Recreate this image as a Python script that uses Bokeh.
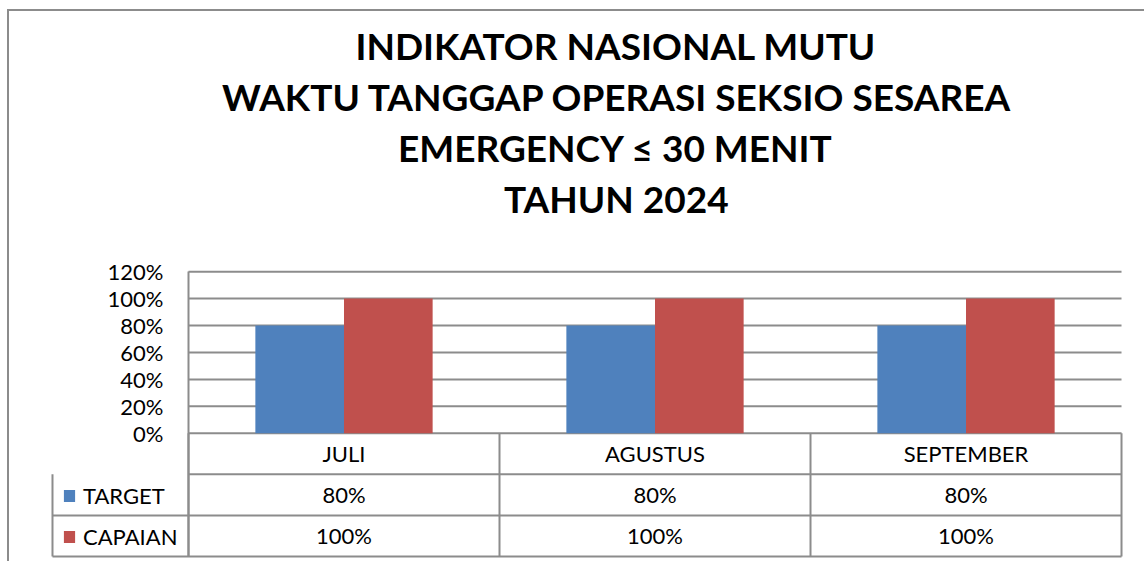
import numpy as np
from bokeh.plotting import figure
from bokeh.models import (Range1d, FixedTicker, NumeralTickFormatter, Legend, LegendItem, Title)
from bokeh.embed import file_html
from bokeh.resources import INLINE
from bokeh.core.properties import value

# ---- data ----
title_lines = ["INDIKATOR NASIONAL MUTU",
               "WAKTU TANGGAP OPERASI SEKSIO SESAREA",
               "EMERGENCY \u2264 30 MENIT",
               "TAHUN 2024"]
months = ["JULI", "AGUSTUS", "SEPTEMBER"]
series_names = ["TARGET", "CAPAIAN"]
target = [0.80, 0.80, 0.80]
capaian = [1.00, 1.00, 1.00]
y_ticks = [0.0, 0.2, 0.4, 0.6, 0.8, 1.0, 1.2]

# ---- style ----
BLUE = "#4F81BD"
RED = "#C0504D"
GRID = "#8c8c8c"
FONT = "Lato"
FS = "22px"

n = len(months)
pos = np.arange(n) + 0.5
bar_w = 0.285
off = bar_w / 2
row_h = 0.305
key_col = 0.4373   # width of the series-name column of the data table (category units)

W, H = 1144, 561
LEFT, RIGHT, TOP, BOTTOM = 50, 20, 255, 3
p = figure(width=W, height=H, output_backend="svg", toolbar_location=None,
           x_range=Range1d(-key_col - 0.0064, n + 0.0096),
           y_range=Range1d(-0.93, 1.32),
           min_border_left=LEFT, min_border_right=RIGHT, min_border_top=TOP,
           min_border_bottom=BOTTOM)
# chart-area border (top and left edges visible)
p.styles = {"box-shadow": "inset 7px 9px 0 0 white, inset 9px 11px 0 0 #8c8c8c"}
p.border_fill_alpha = 0
p.outline_line_color = None
p.background_fill_color = "white"

# ---- title: four centred lines stacked above the plot area ----
title_center = 614                   # horizontal centre of the title block
title_widths = [518, 785, 433, 221]  # rendered widths of the lines (Lato Bold 37px)

def style_title(t, i):
    t.align = "left"
    t.offset = title_center - LEFT - title_widths[i] / 2
    t.text_font = FONT
    t.text_font_size = "37px"
    t.text_font_style = "bold"
    t.text_color = "black"
    t.standoff = 4

p.title.text = title_lines[0]
style_title(p.title, 0)
# nearest the plot first: a blank spacer, then lines 4, 3, 2
p.add_layout(Title(text=" ", text_font_size="10px", standoff=20), "above")
for i in (3, 2, 1):
    t = Title(text=title_lines[i])
    style_title(t, i)
    p.add_layout(t, "above")

# ---- axes ----
p.xaxis.visible = False
p.xgrid.visible = False
p.ygrid.visible = False
ya = p.yaxis[0]
ya.fixed_location = 0
ya.bounds = (-3 * row_h, y_ticks[-1])
ya.ticker = FixedTicker(ticks=y_ticks)
ya.formatter = NumeralTickFormatter(format="0%")
ya.major_tick_in = 0
ya.major_tick_out = 0
ya.minor_tick_line_color = None
ya.axis_line_color = GRID
ya.axis_line_width = 2
ya.major_label_standoff = 25
ya.major_label_text_font = FONT
ya.major_label_text_font_size = FS
ya.major_label_text_color = "black"

# horizontal gridlines over the category area only
p.segment(x0=[0] * len(y_ticks), x1=[n] * len(y_ticks), y0=y_ticks, y1=y_ticks,
          line_color=GRID, line_width=2, level="underlay")

# ---- bars ----
r_t = p.vbar(x=pos - off, top=target, width=bar_w, fill_color=BLUE, line_color=None)
r_c = p.vbar(x=pos + off, top=capaian, width=bar_w, fill_color=RED, line_color=None)

# ---- data table ----
row_lines = [-row_h * (i + 1) for i in range(3)]
# row separators (the key column starts at the second row)
p.segment(x0=[0, -key_col, -key_col], x1=[n] * 3, y0=row_lines, y1=row_lines,
          line_color=GRID, line_width=2)
bounds = [-key_col] + list(range(n + 1))
p.segment(x0=bounds, x1=bounds, y0=[row_lines[0]] + [0] * (n + 1),
          y1=[row_lines[-1]] * len(bounds), line_color=GRID, line_width=2)

txt = dict(text_align="center", text_baseline="middle", text_font=value(FONT),
           text_font_size=FS, text_color="black")
p.text(x=pos, y=[-row_h * 0.5] * n, text=months, **txt)
p.text(x=pos, y=[-row_h * 1.5] * n, text=[f"{v:.0%}" for v in target], **txt)
p.text(x=pos, y=[-row_h * 2.5] * n, text=[f"{v:.0%}" for v in capaian], **txt)

# series keys of the data table (colour square + name), one per row
for i, (name, r) in enumerate(zip(series_names, [r_t, r_c])):
    leg = Legend(items=[LegendItem(label=name, renderers=[r])],
                 location=(12, 46 - 41 * i), margin=0, padding=0,
                 glyph_width=14, glyph_height=15, label_standoff=7,
                 label_width=90, label_height=34, spacing=0,
                 border_line_color=None, background_fill_alpha=0,
                 label_text_font=FONT, label_text_font_size=FS,
                 label_text_color="black", label_text_baseline="middle")
    p.add_layout(leg)

open("out.html", "w").write(file_html(p, INLINE))
